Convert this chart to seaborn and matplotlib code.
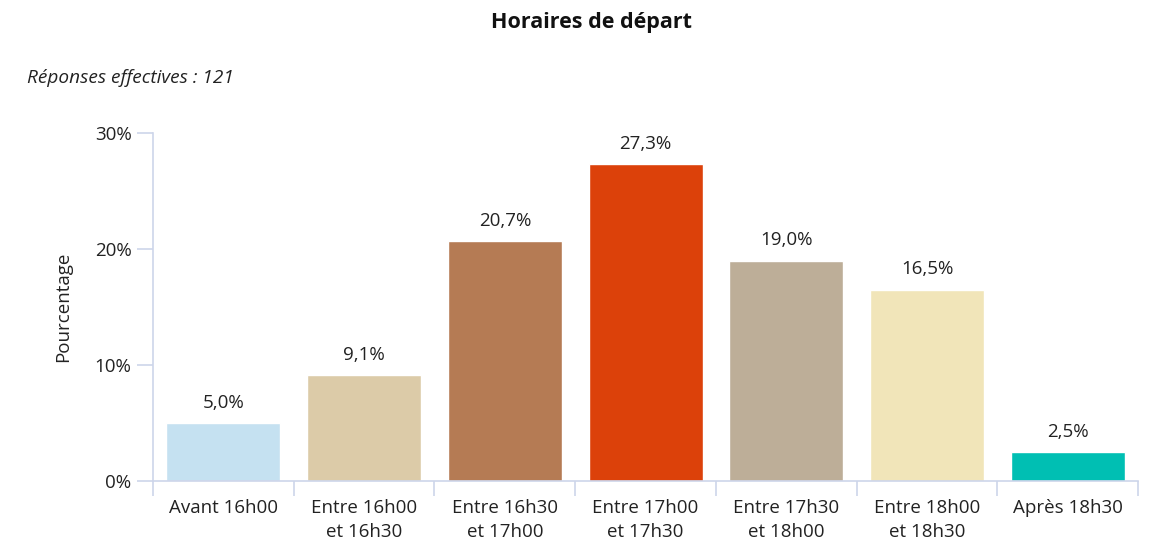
import matplotlib
matplotlib.use("Agg")
import matplotlib.pyplot as plt
import seaborn as sns
import pandas as pd
from matplotlib.ticker import FixedLocator

categories = ["Avant 16h00", "Entre 16h00\net 16h30", "Entre 16h30\net 17h00",
              "Entre 17h00\net 17h30", "Entre 17h30\net 18h00", "Entre 18h00\net 18h30",
              "Après 18h30"]
values = [5.0, 9.1, 20.7, 27.3, 19.0, 16.5, 2.5]
colors = ["#c5e1f1", "#dccba8", "#b57b54", "#dc410a", "#bdae98", "#f1e5b9", "#00bfb3"]
yticks = [0, 10, 20, 30]

sns.set_theme(style="white")
plt.rcParams["font.family"] = ["Open Sans", "DejaVu Sans"]

df = pd.DataFrame({"cat": categories, "val": values})

fig = plt.figure(figsize=(11.59, 5.43), dpi=100)
ax = fig.add_axes([0.132, 0.1142, 0.850, 0.641])

sns.barplot(data=df, x="cat", y="val", hue="cat", palette=colors, legend=False,
            width=0.81, ax=ax, saturation=1)

axis_col = "#cdd5ea"
fs = 13.5
ax.set_xlim(-0.5, len(categories) - 0.5)
ax.set_ylim(0, 30)
ax.set_yticks(yticks)
ax.set_yticklabels([f"{t}%" for t in yticks], fontsize=fs, color="#222222")
ax.set_xticks(range(len(categories)))
ax.set_xticklabels(categories, fontsize=fs, color="#222222", linespacing=1.4)
ax.xaxis.set_minor_locator(FixedLocator([i - 0.5 for i in range(len(categories) + 1)]))
ax.tick_params(axis="x", which="major", bottom=True, length=0, pad=13)
ax.tick_params(axis="x", which="minor", bottom=True, length=11, width=1.2,
               color=axis_col, direction="out")
ax.tick_params(axis="y", left=True, length=11.5, width=1.2, color=axis_col,
               direction="out", pad=4)

for s in ["top", "right"]:
    ax.spines[s].set_visible(False)
for s in ["left", "bottom"]:
    ax.spines[s].set_color(axis_col)
    ax.spines[s].set_linewidth(1.2)

ax.set_xlabel("")
ax.set_ylabel("Pourcentage", fontsize=fs, color="#222222", labelpad=16)

for i, v in enumerate(values):
    ax.annotate(f"{v:.1f}%".replace(".", ","), (i, v), xytext=(0, 8),
                textcoords="offset points", ha="center", va="bottom",
                fontsize=fs, color="#222222")

fig.text(0.510, 0.959, "Horaires de départ", ha="center", va="center",
         fontsize=15.5, fontweight="bold", color="#111111")
fig.text(0.023, 0.856, "Réponses effectives : 121", ha="left", va="center",
         fontsize=13.7, style="italic", color="#222222")

fig.savefig("out.png", dpi=100)
